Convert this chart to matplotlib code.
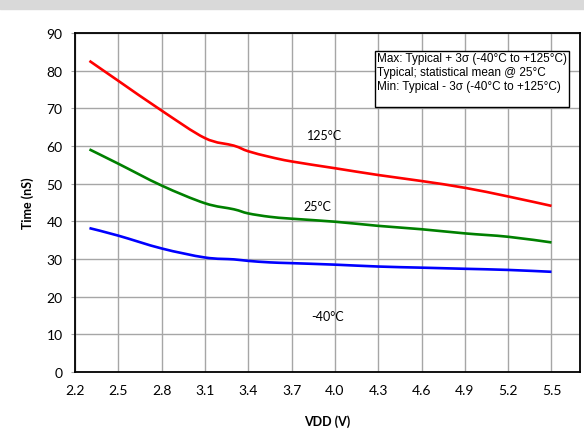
import numpy as np
import matplotlib
matplotlib.use('Agg')
import matplotlib.pyplot as plt
from matplotlib.patches import Rectangle, PathPatch
from matplotlib.path import Path

# supply voltage (V) and propagation time (nS) per temperature
vdd = [2.3, 2.5, 2.8, 3.1, 3.3, 3.4, 3.55, 3.7, 4.0, 4.3, 4.6, 4.9, 5.2, 5.5]
t_125 = [82.6, 77.3, 69.4, 62.1, 60.1, 58.6, 57.1, 55.9, 54.1, 52.3, 50.7, 48.9, 46.6, 44.1]
t_25 = [59.1, 55.3, 49.5, 44.8, 43.2, 42.1, 41.2, 40.7, 39.9, 38.8, 37.9, 36.8, 35.9, 34.4]
t_m40 = [38.2, 36.2, 32.8, 30.4, 29.9, 29.5, 29.1, 28.9, 28.5, 28.0, 27.7, 27.4, 27.1, 26.6]

xticks = [2.2, 2.5, 2.8, 3.1, 3.4, 3.7, 4.0, 4.3, 4.6, 4.9, 5.2, 5.5]
yticks = [0, 10, 20, 30, 40, 50, 60, 70, 80, 90]
note_lines = ['Max: Typical + 3\u03c3 (-40\u00b0C to +125\u00b0C)',
              'Typical; statistical mean @ 25\u00b0C',
              'Min: Typical - 3\u03c3 (-40\u00b0C to +125\u00b0C)']


def smooth_path(xs, ys):
    # Excel-style smoothed line: Catmull-Rom segments as cubic Beziers
    p = np.column_stack([xs, ys]).astype(float)
    verts = [p[0]]
    codes = [Path.MOVETO]
    n = len(p)
    for i in range(n - 1):
        p0 = p[i - 1] if i > 0 else p[i]
        p3 = p[i + 2] if i + 2 < n else p[i + 1]
        c1 = p[i] + (p[i + 1] - p0) / 6.0
        c2 = p[i + 1] - (p3 - p[i]) / 6.0
        verts += [c1, c2, p[i + 1]]
        codes += [Path.CURVE4] * 3
    return Path(verts, codes)


plt.rcParams['font.family'] = ['Lato', 'DejaVu Sans']

fig = plt.figure(figsize=(5.84, 4.31), dpi=100)
fig.patches.append(Rectangle((0, 1 - 10/431), 1, 10/431, transform=fig.transFigure,
                             color='#d9d9d9', zorder=0))
ax = fig.add_axes([75/584, 1 - 373/431, 504.5/584, 339/431])

for ys, col in [(t_125, '#ff0000'), (t_25, '#008000'), (t_m40, '#0000ff')]:
    ax.add_patch(PathPatch(smooth_path(vdd, ys), facecolor='none', edgecolor=col,
                           lw=1.9, zorder=3, capstyle='butt'))

ax.set_xlim(2.2, 5.694)
ax.set_ylim(0, 90)
ax.set_xticks(xticks)
ax.set_xticklabels(['%.1f' % v for v in xticks])
ax.set_yticks(yticks)
ax.grid(True, color='#a6a6a6', lw=1.0)
ax.set_axisbelow(True)
ax.tick_params(axis='x', length=0, pad=9, labelsize=10)
ax.tick_params(axis='y', length=3, color='#a6a6a6', pad=6, labelsize=10)
for s in ax.spines.values():
    s.set_linewidth(1.3)
    s.set_color('black')

ax.set_ylabel('Time (nS)', fontweight='bold', fontsize=9, labelpad=9)
ax.set_xlabel('VDD (V)', fontweight='bold', fontsize=9, labelpad=13)

ax.text(3.926, 62.9, '125\u00b0C', ha='center', va='center', fontsize=9)
ax.text(3.877, 44.2, '25\u00b0C', ha='center', va='center', fontsize=9)
ax.text(3.95, 14.9, '-40\u00b0C', ha='center', va='center', fontsize=9)

ax.add_patch(Rectangle((0.5946, 0.7808), 0.3852, 0.1652, transform=ax.transAxes,
                       facecolor='white', edgecolor='black', lw=1.0, zorder=4))
for i, line in enumerate(note_lines):
    ax.text(0.599, 0.927 - i * 0.0413, line, transform=ax.transAxes, ha='left', va='center',
            fontsize=8.5, family='Liberation Sans', zorder=5)

fig.savefig('out.png', dpi=100)
